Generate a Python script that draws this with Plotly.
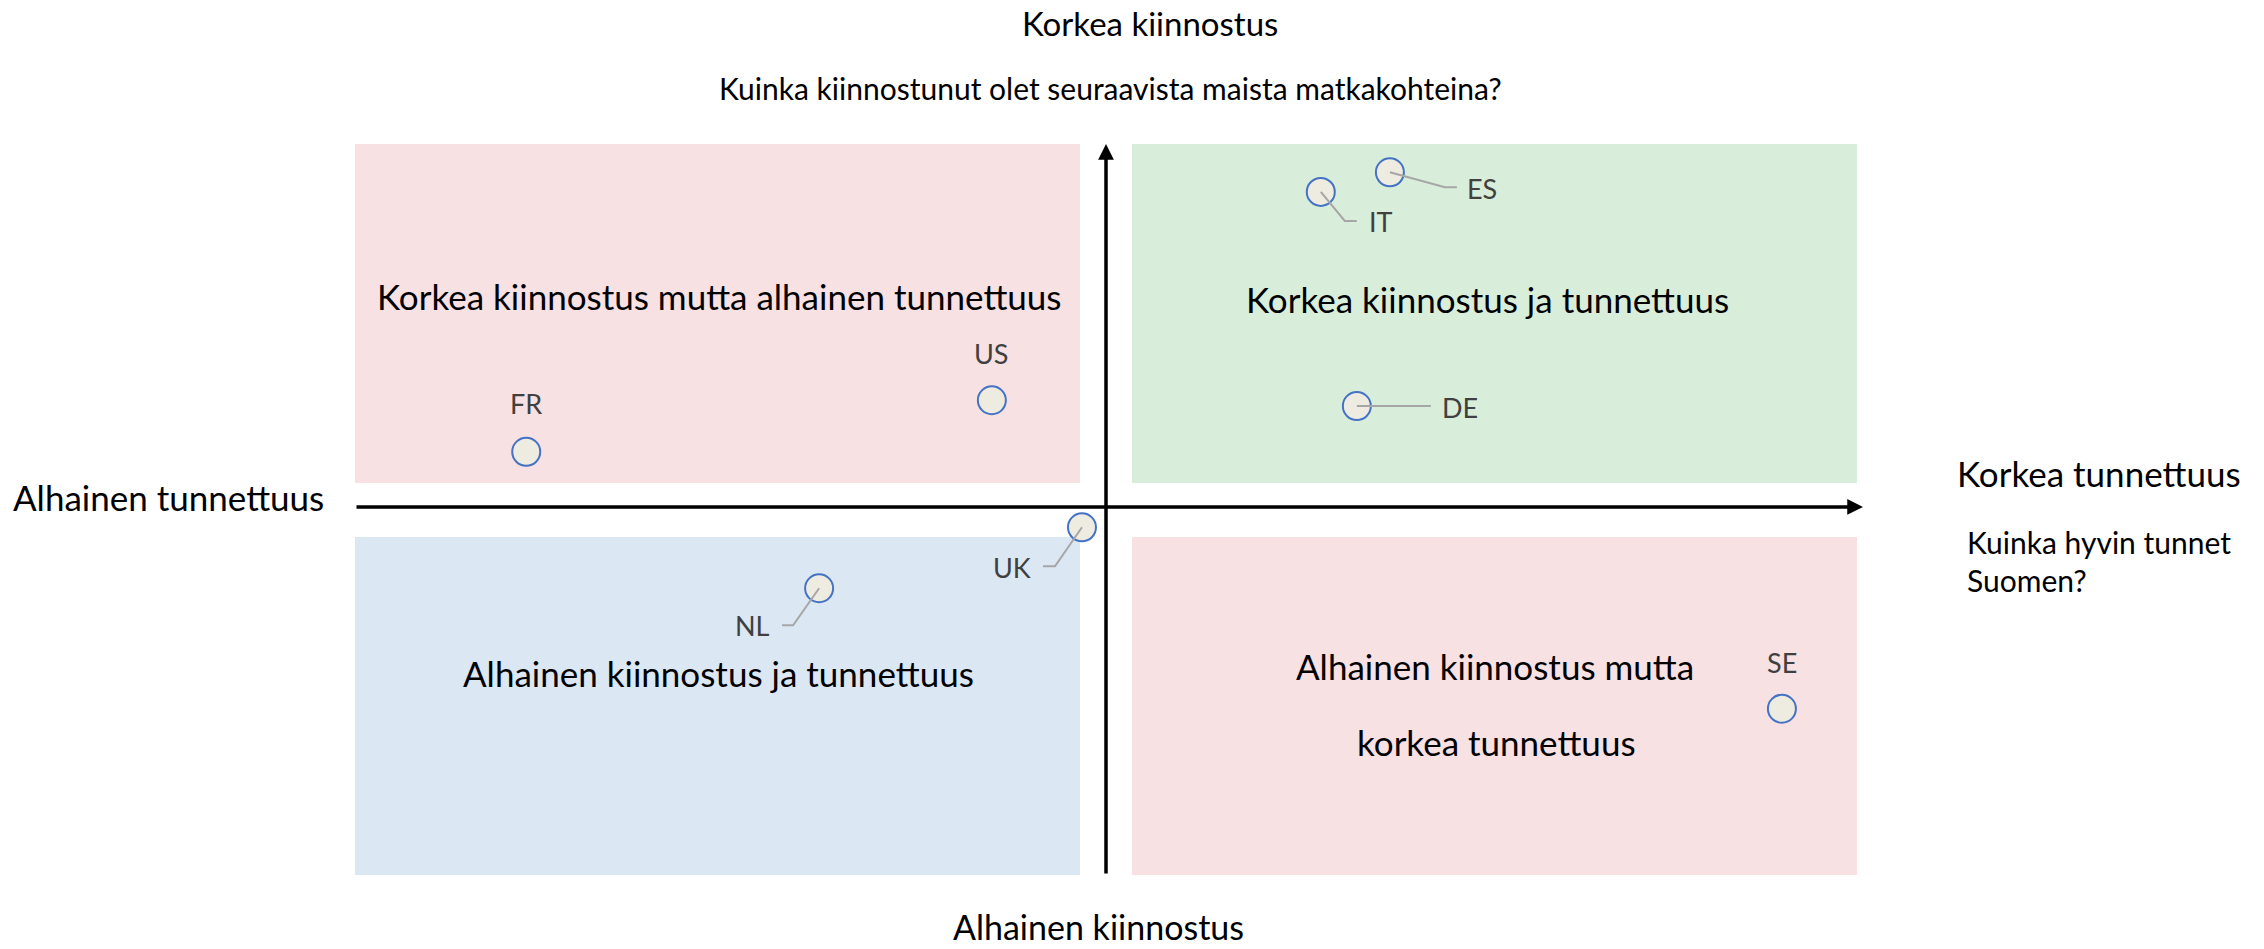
import plotly.graph_objects as go

# Matkakohdekartta: tunnettuus (x) vs. kiinnostus (y)
countries = ["ES", "IT", "DE", "US", "FR", "UK", "NL", "SE"]
tunnettuus = [1.89, 1.43, 1.67, -0.76, -3.86, -0.16, -1.91, 4.50]
kiinnostus = [4.61, 4.34, 1.39, 1.47, 0.76, -0.28, -1.12, -2.78]

# label offsets in screen px (dx right, dy down) + elbow points of the leader line
LABELS = {
    "ES": dict(dx=75, dy=16, anchor="left", leader=[(55, 15), (67, 15)]),
    "IT": dict(dx=46, dy=30, anchor="left", leader=[(24, 29), (36, 29)]),
    "DE": dict(dx=83, dy=1, anchor="left", leader=[(74, 0)]),
    "US": dict(dx=0, dy=-47, anchor="center", leader=None),
    "FR": dict(dx=0, dy=-48, anchor="center", leader=None),
    "UK": dict(dx=-49, dy=40, anchor="right", leader=[(-27, 39), (-39, 39)]),
    "NL": dict(dx=-47, dy=37, anchor="right", leader=[(-26, 37), (-37, 37)]),
    "SE": dict(dx=0, dy=-46, anchor="center", leader=None),
}

PINK = "#F7E1E3"
GREEN = "#D9EEDA"
BLUE = "#DCE7F4"
FONT = "Lato"
XR = [-5, 5]
YR = [-5.07, 5]

fig = go.Figure()

fig.add_trace(go.Scatter(
    x=tunnettuus, y=kiinnostus, mode="markers",
    marker=dict(size=28, color="#EEECE1", line=dict(color="#4472C4", width=2)),
    hoverinfo="text", text=countries, showlegend=False,
))

shapes = []
# quadrant backgrounds
for x0, x1, y0, y1, col in [
    (-5, -0.173, 0.331, 5, PINK),
    (0.173, 5, 0.331, 5, GREEN),
    (-5, -0.173, -5.07, -0.413, BLUE),
    (0.173, 5, -5.07, -0.413, PINK),
]:
    shapes.append(dict(type="rect", xref="x", yref="y", x0=x0, x1=x1, y0=y0, y1=y1,
                       fillcolor=col, line=dict(width=0), layer="below"))

# leader lines, anchored at the point, drawn in pixels
for c, xv, yv in zip(countries, tunnettuus, kiinnostus):
    lead = LABELS[c]["leader"]
    if not lead:
        continue
    path = "M0,0 " + " ".join(f"L{dx},{-dy}" for dx, dy in lead)
    shapes.append(dict(type="path", xref="x", yref="y", xsizemode="pixel", ysizemode="pixel",
                       xanchor=xv, yanchor=yv, path=path,
                       line=dict(color="#A6A6A6", width=2), layer="above"))

annotations = []
for c, xv, yv in zip(countries, tunnettuus, kiinnostus):
    o = LABELS[c]
    annotations.append(dict(x=xv, y=yv, xref="x", yref="y", text=c, showarrow=False,
                            xanchor=o["anchor"], yanchor="middle",
                            xshift=o["dx"], yshift=-o["dy"],
                            font=dict(family=FONT, size=27, color="#404040")))

# axes with arrows
annotations.append(dict(x=5.04, y=0, ax=-5, ay=0, xref="x", yref="y", axref="x", ayref="y",
                        text="", showarrow=True, arrowhead=2, arrowsize=0.9, arrowwidth=3.5,
                        arrowcolor="black"))
annotations.append(dict(x=0, y=5, ax=0, ay=-5.07, xref="x", yref="y", axref="x", ayref="y",
                        text="", showarrow=True, arrowhead=2, arrowsize=0.9, arrowwidth=3.5,
                        arrowcolor="black"))

# quadrant titles
for txt, xv, yv in [
    ("Korkea kiinnostus mutta alhainen tunnettuus", -2.577, 2.906),
    ("Korkea kiinnostus ja tunnettuus", 2.537, 2.865),
    ("Alhainen kiinnostus ja tunnettuus", -2.577, -2.287),
    ("Alhainen kiinnostus mutta", 2.59, -2.191),
    ("korkea tunnettuus", 2.597, -3.238),
]:
    annotations.append(dict(x=xv, y=yv, xref="x", yref="y", text=txt, showarrow=False,
                            font=dict(family=FONT, size=35, color="black")))

# axis titles outside the plot
for txt, xp, yp, xa, size in [
    ("Korkea kiinnostus", 0.5293, 1.1655, "center", 33),
    ("Kuinka kiinnostunut olet seuraavista maista matkakohteina?", 0.5027, 1.0766, "center", 30),
    ("Alhainen tunnettuus", -0.1245, 0.5171, "center", 35),
    ("Korkea tunnettuus", 1.0652, 0.5499, "left", 35),
    ("Kuinka hyvin tunnet", 1.0719, 0.4556, "left", 30),
    ("Suomen?", 1.0719, 0.4036, "left", 30),
    ("Alhainen kiinnostus", 0.4947, -0.0698, "center", 34),
]:
    annotations.append(dict(x=xp, y=yp, xref="paper", yref="paper", text=txt, showarrow=False,
                            xanchor=xa, yanchor="middle", align="left",
                            font=dict(family=FONT, size=size, color="black")))

fig.update_layout(
    width=2264, height=949,
    margin=dict(l=355, r=407, t=144, b=74),
    paper_bgcolor="white", plot_bgcolor="white",
    xaxis=dict(range=XR, visible=False, fixedrange=True),
    yaxis=dict(range=YR, visible=False, fixedrange=True),
    shapes=shapes, annotations=annotations,
    font=dict(family=FONT),
)

# drop the default 8px page margin so the figure fills the window exactly
fig.write_html("out.html", config={"displayModeBar": False},
               post_script="document.body.style.margin='0';")
